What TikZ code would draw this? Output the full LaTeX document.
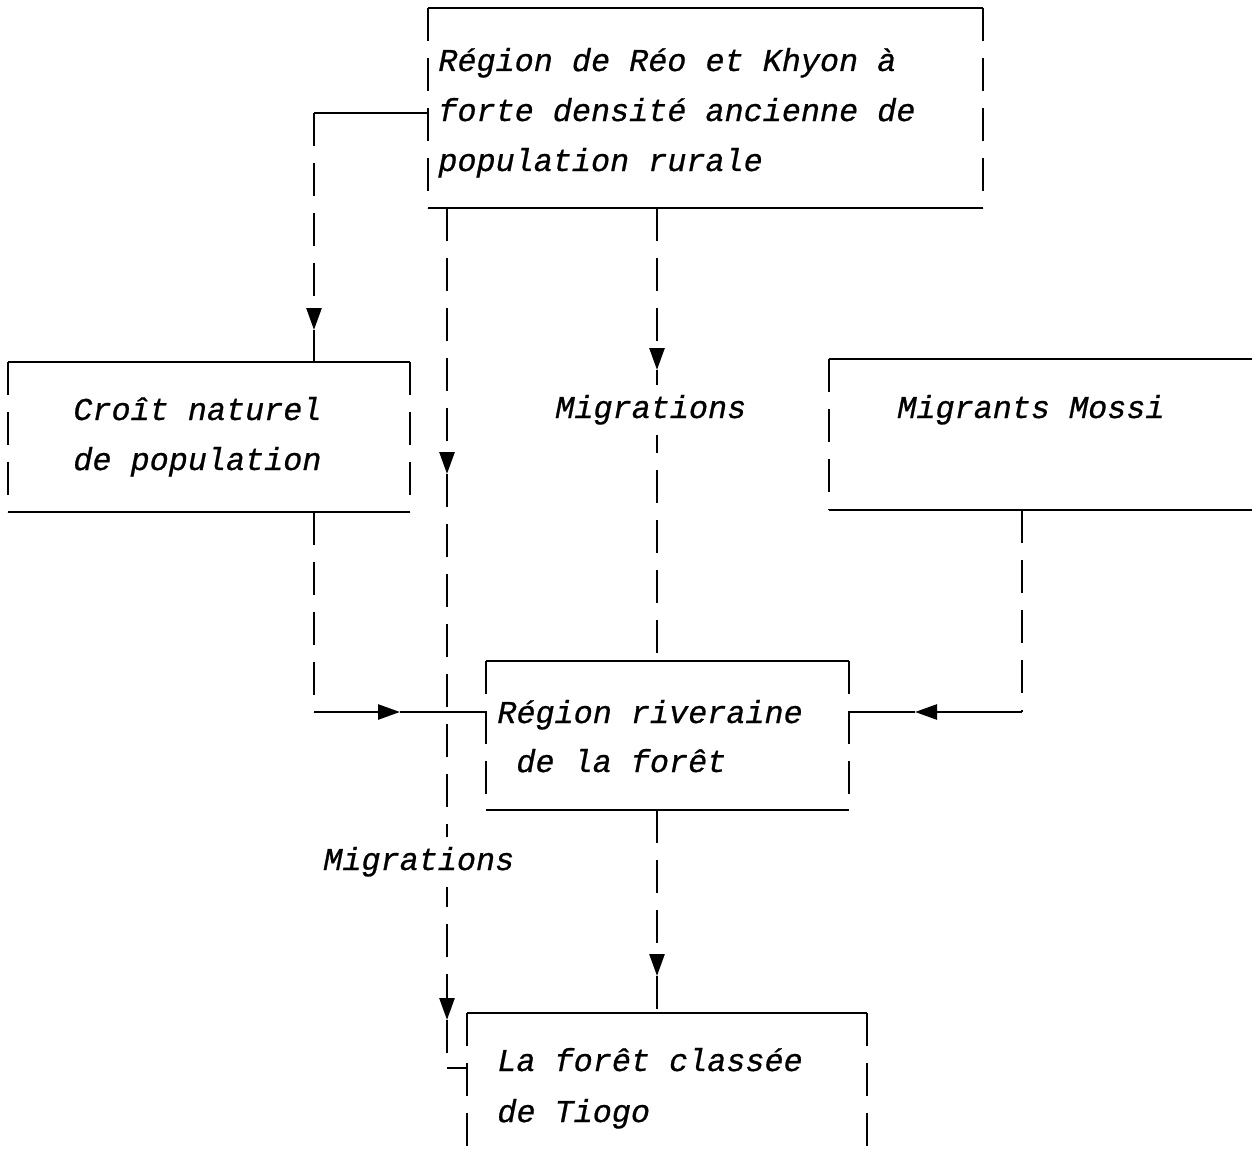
\documentclass[tikz,border=0pt]{standalone}
\usepackage{fontspec}
\newfontfamily\twfont{Liberation Mono}[UprightFont={* Italic}, FakeBold=0.7]
\usetikzlibrary{arrows.meta}
\newcommand\typebox[5]{%
  \node[boxnode, minimum width=#4, minimum height=#5] (#1) at (#2,#3) {};
  \draw[hline] (#1.north west) -- (#1.north east);
  \draw[hline] (#1.south west) -- (#1.south east);
  \draw[vdash] (#1.north west) -- (#1.south west);
  \draw[vdash] (#1.north east) -- (#1.south east);
}
\begin{document}
\begin{tikzpicture}[x=0.5pt,y=-0.5pt,
  hline/.style={line width=1.3pt},
  vdash/.style={line width=1.3pt, dash pattern=on 16.5pt off 8.5pt},
  tip/.style={-{Triangle[length=11pt,width=7.5pt]}},
  boxnode/.style={rectangle, inner sep=0pt, outer sep=0pt, anchor=north west},
  txt/.style={inner sep=0pt, anchor=base west, font=\fontsize{15.9}{25}\selectfont\twfont},
  lbl/.style={txt, fill=white, inner ysep=5pt}
]
\path[use as bounding box] (0,0) rectangle (1252,1161);
\clip (0,0) rectangle (1252,1161);

% boxes
\typebox{top}{428}{8}{277.5pt}{100pt}
\typebox{croit}{8}{362}{201pt}{75pt}
\typebox{mossi}{829}{359}{240pt}{75.5pt}
\typebox{riv}{486}{661}{181.5pt}{74.5pt}
\typebox{foret}{467}{1013}{200pt}{82pt}

% box texts
\node[txt] (t1) at (438,71) {Région de Réo et Khyon à};
\node[txt] (t2) at (438,121) {forte densité ancienne de};
\node[txt] (t3) at (438,171) {population rurale};
\node[txt] (c1t) at (73,420) {Croît naturel};
\node[txt] (c2t) at (73,470) {de population};
\node[txt] (mt) at (897,418) {Migrants Mossi};
\node[txt] (r1t) at (497,723) {Région riveraine};
\node[txt] (r2t) at (516,772) {de la forêt};
\node[txt] (f1t) at (497,1071) {La forêt classée};
\node[txt] (f2t) at (497,1122) {de Tiogo};

% coordinates
\coordinate (c1) at (314,113);
\coordinate (a1) at (314,330);
\coordinate (c2) at (314,712);
\coordinate (a2) at (400,712);
\coordinate (a3) at (447,474);
\coordinate (a4) at (447,1020);
\coordinate (c3) at (447,1068);
\coordinate (a5) at (657,370);
\coordinate (c4) at (1022,712);
\coordinate (a6) at (915,712);
\coordinate (a7) at (657,976);

% top -> croit
\draw[hline] (c1 -| top.west) -- (c1);
\draw[vdash, tip] (c1) -- (a1);
\draw[vdash] (a1) -- (a1 |- croit.north);

% croit -> riv
\draw[vdash] (c2 |- croit.south) -- (c2);
\draw[hline, tip] (c2) -- (a2);
\draw[hline] (a2) -- (a2 -| riv.west);

% top -> foret (long migrations)
\draw[vdash, tip] (a3 |- top.south) -- (a3);
\draw[vdash, tip] (a3) -- (a4);
\draw[vdash] (a4) -- (c3);
\draw[hline] (c3) -- (c3 -| foret.west);

% top -> riv
\draw[vdash, tip] (a5 |- top.south) -- (a5);
\draw[vdash] (a5) -- (a5 |- riv.north);

% mossi -> riv
\draw[vdash] (c4 |- mossi.south) -- (c4);
\draw[hline, tip] (c4) -- (a6);
\draw[hline] (a6) -- (a6 -| riv.east);

% riv -> foret
\draw[vdash, tip] (a7 |- riv.south) -- (a7);
\draw[vdash] (a7) -- (a7 |- foret.north);

% labels
\node[lbl] (mig1) at (555,418) {Migrations};
\node[lbl] (mig2) at (323,870) {Migrations};
\end{tikzpicture}
\end{document}
